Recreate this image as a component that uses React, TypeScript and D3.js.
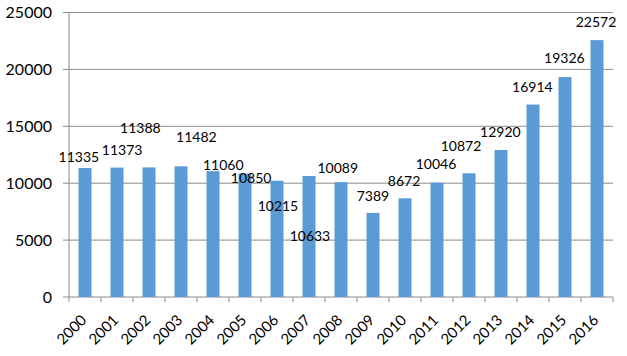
import React from "react";
import * as d3 from "d3";

const years = ["2000","2001","2002","2003","2004","2005","2006","2007","2008","2009","2010","2011","2012","2013","2014","2015","2016"];
const values = [11335,11373,11388,11482,11060,10850,10215,10633,10089,7389,8672,10046,10872,12920,16914,19326,22572];
// where each data label sits (in value units) and its sideways nudge (in band fractions)
const labelAt = [11890,12478,14385,13647,11160,9991,7583,4947,10870,8462,9754,11248,12856,14086,18041,20536,23752];
const labelShift = [-0.19,0.16,-0.27,0.48,0.32,0.19,0.03,0.03,-0.1,0,-0.03,-0.03,-0.25,-0.02,-0.02,-0.02,-0.03];
const yTicks = [0,5000,10000,15000,20000,25000];

const W = 627, H = 356;
const left = 69, right = 613, top = 12.5, bottom = 297;
const font = "Lato, 'Open Sans', sans-serif";

export default function App() {
  const x = d3.scaleBand<string>().domain(years).range([left, right]).paddingInner(0.594).paddingOuter(0.297);
  const xb = d3.scaleBand<string>().domain(years).range([left, right]);
  const y = d3.scaleLinear().domain([0, 25000]).range([bottom, top]);
  const step = xb.step();
  return (
    <svg width={W} height={H} style={{ position: "absolute", left: 0, top: 0, background: "#fff" }} fontFamily={font}>
      {yTicks.map(t => (
        <g key={t}>
          <line x1={left - 6} x2={right} y1={y(t)} y2={y(t)} stroke="#8c8c8c" strokeWidth={1} />
          <text x={52} y={y(t)} dy="0.36em" textAnchor="end" fontSize={16} fill="#000">{t}</text>
        </g>
      ))}
      <line x1={left} x2={left} y1={top} y2={bottom} stroke="#8c8c8c" />
      {years.map((yr) => (
        <line key={"t" + yr} x1={xb(yr)!} x2={xb(yr)!} y1={bottom} y2={bottom + 5} stroke="#8c8c8c" />
      ))}
      <line x1={right} x2={right} y1={bottom} y2={bottom + 5} stroke="#8c8c8c" />
      {years.map((yr, i) => (
        <rect key={"b" + yr} x={x(yr)!} y={y(values[i])} width={x.bandwidth()} height={bottom - y(values[i])} fill="#5b9bd5" />
      ))}
      {years.map((yr, i) => (
        <text key={"l" + yr} x={xb(yr)! + step / 2 + labelShift[i] * step} y={y(labelAt[i])} textAnchor="middle" fontSize={14} fill="#000">{values[i]}</text>
      ))}
      {years.map((yr) => {
        const cx = xb(yr)! + step / 2 + 2.5;
        const cy = bottom + 24;
        return (
          <text key={"x" + yr} x={cx} y={cy} transform={`rotate(-45 ${cx} ${cy})`} textAnchor="end" fontSize={15} fill="#000">{yr}</text>
        );
      })}
    </svg>
  );
}
